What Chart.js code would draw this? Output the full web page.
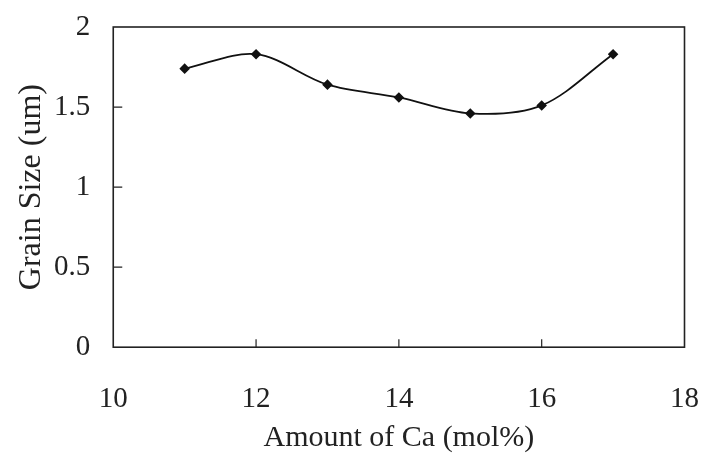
<!DOCTYPE html>
<html lang="en">
<head>
    <meta charset="UTF-8">
    <title>Grain Size vs Amount of Ca</title>
    <script src="https://cdn.jsdelivr.net/npm/chart.js"></script>
    <style>
        body {
            margin: 0;
            background: #ffffff;
        }
        .wrap {
            width: 701px;
            height: 453px;
        }
    </style>
</head>
<body>
    <div class="wrap">
        <canvas id="grainChart" width="701" height="453"></canvas>
    </div>

<script>
    // data
    const caAmount = [11, 12, 13, 14, 15, 16, 17];
    const grainSize = [1.74, 1.83, 1.64, 1.56, 1.46, 1.51, 1.83];
    const xTicks = [10, 12, 14, 16, 18];
    const yTicks = [0, 0.5, 1, 1.5, 2];

    const points = caAmount.map((x, i) => ({ x: x, y: grainSize[i] }));

    // box round the plot + short ticks pointing inward
    const frame = {
        id: 'frame',
        afterDraw(chart) {
            const ctx = chart.ctx;
            const a = chart.chartArea;
            const xs = chart.scales.x;
            const ys = chart.scales.y;
            ctx.save();
            ctx.strokeStyle = '#222';
            ctx.lineWidth = 1.6;
            ctx.strokeRect(a.left, a.top, a.right - a.left, a.bottom - a.top);
            ctx.lineWidth = 1.2;
            ctx.beginPath();
            xTicks.slice(1, -1).forEach(v => {
                const px = xs.getPixelForValue(v);
                ctx.moveTo(px, a.bottom);
                ctx.lineTo(px, a.bottom - 8);
            });
            yTicks.slice(1, -1).forEach(v => {
                const py = ys.getPixelForValue(v);
                ctx.moveTo(a.left, py);
                ctx.lineTo(a.left + 9, py);
            });
            ctx.stroke();
            ctx.restore();
        }
    };

    const serif = { family: "'Liberation Serif', 'DejaVu Serif', serif" };

    new Chart(document.getElementById('grainChart'), {
        type: 'line',
        data: {
            datasets: [{
                data: points,
                borderColor: '#111',
                backgroundColor: '#111',
                borderWidth: 1.8,
                tension: 0.33,
                pointStyle: 'rectRot',
                pointRadius: 4,
                pointHoverRadius: 4,
                fill: false
            }]
        },
        options: {
            responsive: false,
            animation: false,
            layout: { padding: { left: 16, right: 2, top: 27, bottom: 0 } },
            plugins: {
                legend: { display: false },
                tooltip: { enabled: false }
            },
            scales: {
                x: {
                    type: 'linear',
                    min: 10,
                    max: 18,
                    afterBuildTicks: s => { s.ticks = xTicks.map(v => ({ value: v })); },
                    // invisible tick lines used as spacing; real ticks drawn by plugin
                    grid: { drawOnChartArea: false, drawTicks: true, tickLength: 33, tickColor: 'rgba(0,0,0,0)' },
                    border: { display: false },
                    ticks: {
                        color: '#222',
                        padding: 2,
                        maxRotation: 0,
                        callback: v => String(v),
                        font: { ...serif, size: 29 }
                    },
                    title: {
                        display: true,
                        text: 'Amount of Ca (mol%)',
                        color: '#222',
                        padding: { top: 4, bottom: 0 },
                        font: { ...serif, size: 30, lineHeight: 1 }
                    }
                },
                y: {
                    min: 0,
                    max: 2,
                    afterBuildTicks: s => { s.ticks = yTicks.map(v => ({ value: v })); },
                    grid: { drawOnChartArea: false, drawTicks: true, tickLength: 21, tickColor: 'rgba(0,0,0,0)' },
                    border: { display: false },
                    ticks: {
                        color: '#222',
                        padding: 2,
                        callback: v => String(v),
                        font: { ...serif, size: 29 }
                    },
                    title: {
                        display: true,
                        text: 'Grain Size (um)',
                        color: '#222',
                        padding: { top: 0, bottom: 4 },
                        font: { ...serif, size: 32, lineHeight: 1 }
                    }
                }
            }
        },
        plugins: [frame]
    });
</script>
</body>
</html>
